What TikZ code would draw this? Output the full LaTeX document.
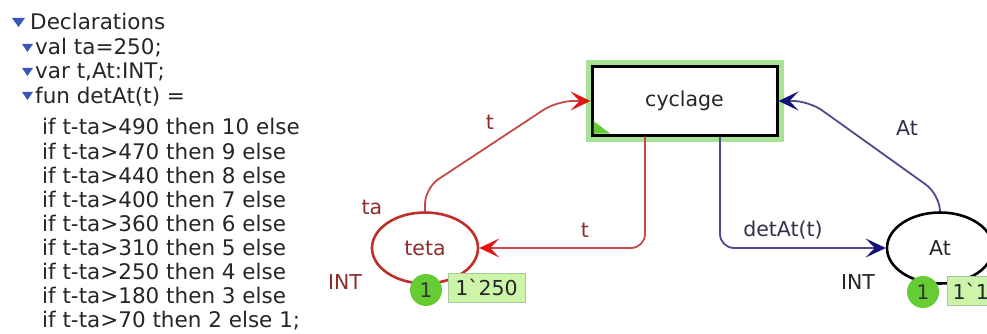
\documentclass[tikz,border=0pt]{standalone}
\usepackage{fontspec}
\newfontfamily\cpnfont{DejaVu Sans}
\usetikzlibrary{arrows.meta,shapes.geometric}
\definecolor{arcred}{HTML}{C24A4A}
\definecolor{headred}{HTML}{E01515}
\definecolor{lblred}{HTML}{8E2C2C}
\definecolor{placered}{HTML}{C0302A}
\definecolor{arcblue}{HTML}{4C4C8C}
\definecolor{headblue}{HTML}{12127A}
\definecolor{lblblue}{HTML}{30304A}
\definecolor{halo}{HTML}{A8E294}
\definecolor{tokgreen}{HTML}{66CC33}
\definecolor{markfill}{HTML}{CCF5AA}
\definecolor{markedge}{HTML}{A6C89E}
\definecolor{tri}{HTML}{3A56B8}
\begin{document}
\begin{tikzpicture}[x=1pt,y=-1pt,
  decl/.style={font=\cpnfont\fontsize{21.5}{24}\selectfont, anchor=base west, inner sep=0pt, text=black!85},
  lbl/.style={font=\cpnfont\fontsize{20.5}{24}\selectfont, inner sep=0pt},
  redarc/.style={draw=arcred, line width=1.8pt, rounded corners=16pt,
    -{Stealth[length=20pt,width=19pt,inset=9pt,color=headred]}},
  bluearc/.style={draw=arcblue, line width=1.8pt, rounded corners=16pt,
    -{Stealth[length=20pt,width=19pt,inset=9pt,color=headblue]}},
  place/.style={ellipse, line width=2.6pt, minimum width=106pt, minimum height=71pt, inner sep=0pt, fill=white,
    font=\cpnfont\fontsize{20.5}{24}\selectfont},
  trans/.style={rectangle, draw=black, line width=3pt, fill=white, minimum width=185pt, minimum height=68pt,
    preaction={draw=halo, line width=13pt}, font=\cpnfont\fontsize{20.5}{24}\selectfont, text=black!85},
  token/.style={circle, fill=tokgreen, minimum size=32pt, inner sep=0pt,
    font=\cpnfont\fontsize{20}{24}\selectfont, text=black!80},
  marking/.style={fill=markfill, draw=markedge, line width=1pt, minimum height=29pt, inner sep=4pt,
    font=\cpnfont\fontsize{20.5}{24}\selectfont, text=black!85},
  trimark/.style={fill=tri}
]
\useasboundingbox (0,0) rectangle (987,334);
\fill[white] (0,0) rectangle (987,334);

% Declarations
\fill[trimark] (12,18) -- (25,18) -- (18.5,27) -- cycle;
\node[decl] (d0) at (30,30) {Declarations};
\fill[trimark] (22,44) -- (33,44) -- (27.5,52) -- cycle;
\node[decl] (d1) at (35,55) {val ta=250;};
\fill[trimark] (22,68) -- (33,68) -- (27.5,76) -- cycle;
\node[decl] (d2) at (35,79) {var t,At:INT;};
\fill[trimark] (22,92) -- (33,92) -- (27.5,100) -- cycle;
\node[decl] (d3) at (35,103) {fun detAt(t) =};
\node[decl] (d4) at (42,135) {if t-ta>490 then 10 else};
\node[decl] (d5) at (42,159) {if t-ta>470 then 9 else};
\node[decl] (d6) at (42,183) {if t-ta>440 then 8 else};
\node[decl] (d7) at (42,207) {if t-ta>400 then 7 else};
\node[decl] (d8) at (42,231) {if t-ta>360 then 6 else};
\node[decl] (d9) at (42,255) {if t-ta>310 then 5 else};
\node[decl] (d10) at (42,279) {if t-ta>250 then 4 else};
\node[decl] (d11) at (42,303) {if t-ta>180 then 3 else};
\node[decl] (d12) at (42,327) {if t-ta>70 then 2 else 1;};

% Net
\node[trans] (cyc) at (684.5,101) {cyclage};
\fill[tokgreen] (593.5,133.5) -- (593.5,121) -- (610,133.5) -- cycle;

\node[place, draw=placered, text=lblred] (teta) at (425,248) {teta};
\node[place, draw=black, text=black!85] (atp) at (940,248) {At};

\coordinate (rx) at (645,0);
\coordinate (bx) at (720,0);

\draw[redarc] (teta.north) -- (425,188) -- (557,101) -- (cyc.west);
\draw[redarc, rounded corners=14pt] (cyc.south -| rx) |- (teta.east);
\draw[bluearc] (atp.north) -- (939,194) -- (809,101) -- (cyc.east);
\draw[bluearc, rounded corners=14pt] (cyc.south -| bx) |- (atp.west);

% arc labels
\node[lbl, text=lblred] (lt1) at (490,122) {t};
\node[lbl, text=lblred] (lt2) at (585,230) {t};
\node[lbl, text=lblred] (lta) at (372,207) {ta};
\node[lbl, text=lblred] (lint1) at (345,282) {INT};
\node[lbl, text=lblblue] (lat) at (907,128) {At};
\node[lbl, text=lblblue] (ldet) at (783,230) {detAt(t)};
\node[lbl, text=black!85] (lint2) at (858,282) {INT};

% markings
\node[token] (tk1) at (426,290) {1};
\node[marking, minimum width=77pt] (mk1) at (486.5,287.5) {1\char96 250};
\node[token] (tk2) at (923,292) {1};
\node[marking, anchor=west, text width=50pt, align=left, inner sep=5pt] (mk2) at (947,291) {1\char96 1};
\end{tikzpicture}
\end{document}
